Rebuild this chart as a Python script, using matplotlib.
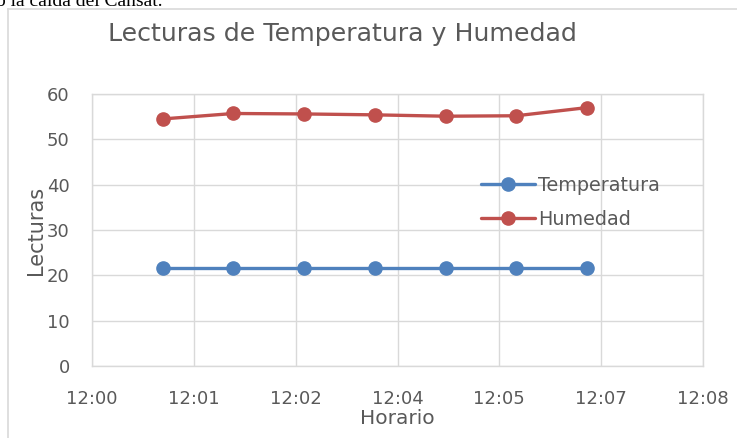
import matplotlib
matplotlib.use("Agg")
import matplotlib.pyplot as plt
import matplotlib.dates as mdates
from matplotlib.lines import Line2D
import pandas as pd

# readings taken once a minute
horario = ["12:01:00", "12:02:00", "12:03:00", "12:04:00", "12:05:00", "12:06:00", "12:07:00"]
temperatura = [21.6, 21.6, 21.6, 21.6, 21.6, 21.6, 21.6]
humedad = [54.5, 55.7, 55.6, 55.4, 55.1, 55.2, 57.0]

series_names = ["Temperatura", "Humedad"]
series_colors = ["#4F81BD", "#C0504D"]

W, H = 737, 438
FONT = "DejaVu Sans"
GREY = "#595959"

day = pd.Timestamp("2000-01-01")
t = mdates.date2num(pd.to_datetime(["2000-01-01 " + h for h in horario]))
t0 = mdates.date2num(day + pd.Timedelta(hours=12))

fig = plt.figure(figsize=(W / 100, H / 100), dpi=100)
ax = fig.add_axes([92 / W, 1 - 366 / H, (703 - 92) / W, (366 - 94) / H])

for vals, name, col in zip([temperatura, humedad], series_names, series_colors):
    ax.plot(t, vals, color=col, lw=2.4, marker="o", ms=9.5, label=name,
            solid_capstyle="round", zorder=3)

ax.set_ylim(0, 60)
ax.set_yticks(range(0, 61, 10))
ax.set_xlim(t0, t0 + 0.006)
ax.set_xticks([t0 + 0.001 * i for i in range(7)])
ax.xaxis.set_major_formatter(mdates.DateFormatter("%H:%M"))

ax.grid(True, color="#D9D9D9", lw=1)
ax.set_axisbelow(True)
for s in ax.spines.values():
    s.set_color("#D9D9D9")
    s.set_linewidth(1)
ax.tick_params(length=0, labelsize=13, labelcolor=GREY)
ax.tick_params(axis="x", pad=17)
ax.tick_params(axis="y", pad=16)
for lab in ax.get_xticklabels() + ax.get_yticklabels():
    lab.set_fontfamily(FONT)

ax.set_xlabel("Horario", fontsize=14.5, color=GREY, family=FONT, labelpad=1)
ax.set_ylabel("Lecturas", fontsize=15, color=GREY, family=FONT, labelpad=1)

leg = ax.legend(loc="center left", bbox_to_anchor=(0.637, 0.601), frameon=False,
                borderpad=0, borderaxespad=0, handlelength=2.8, handletextpad=0.15,
                labelspacing=0.8, prop={"family": FONT, "size": 13.8})
for txt in leg.get_texts():
    txt.set_color(GREY)

fig.text(342 / W, 1 - 34 / H, "Lecturas de Temperatura y Humedad", ha="center",
         va="center", fontsize=18.2, color=GREY, family=FONT)

# chart area border and the document line above it
fig.add_artist(Line2D([8 / W, 8 / W], [0, 1 - 9 / H], color="#D9D9D9", lw=1.2))
fig.add_artist(Line2D([8 / W, 1], [1 - 9 / H, 1 - 9 / H], color="#D9D9D9", lw=1.2))
fig.text(-4 / W, 1 - 6 / H, "o la caída del Cansat.", ha="left", va="baseline",
         fontsize=14, color="black", family="Liberation Serif")

fig.savefig("out.png", dpi=100)
